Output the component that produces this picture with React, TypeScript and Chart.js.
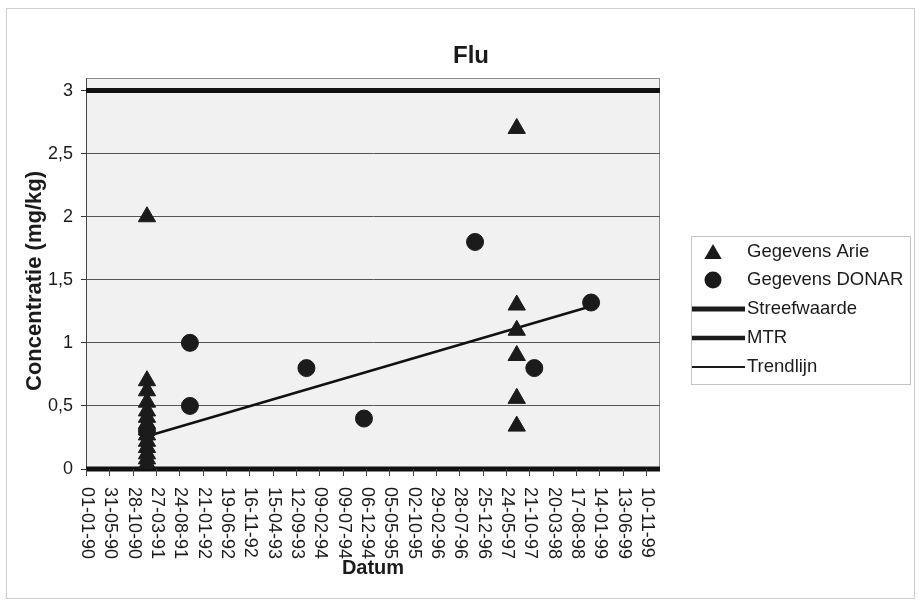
import { useEffect, useRef } from 'react';
import { Chart, registerables } from 'chart.js';

Chart.register(...registerables);

const FONT = '"Liberation Sans", Arial, Helvetica, sans-serif';
const INK = '#1b1b1b';

// Date axis: values are days since 01-01-1990
const ORIGIN = Date.UTC(1990, 0, 1);
const DAY_MS = 86400000;
const isoToDays = (iso: string) => (Date.parse(iso + 'T00:00:00Z') - ORIGIN) / DAY_MS;
const labelToDays = (lbl: string) => {
  const [d, m, y] = lbl.split('-').map(Number);
  return (Date.UTC(1900 + y, m - 1, d) - ORIGIN) / DAY_MS;
};

const xTickLabels = [
  '01-01-90', '31-05-90', '28-10-90', '27-03-91', '24-08-91', '21-01-92', '19-06-92',
  '16-11-92', '15-04-93', '12-09-93', '09-02-94', '09-07-94', '06-12-94', '05-05-95',
  '02-10-95', '29-02-96', '28-07-96', '25-12-96', '24-05-97', '21-10-97', '20-03-98',
  '17-08-98', '14-01-99', '13-06-99', '10-11-99',
];
const xAxisStart = '1990-01-01';
const xAxisEnd = '2000-02-08';

const yTickValues = [0, 0.5, 1, 1.5, 2, 2.5, 3];
const yTickLabels = ['0', '0,5', '1', '1,5', '2', '2,5', '3'];
const yAxisMax = 3.1;

// Gegevens Arie
const arieDates = [
  '1991-01-28', '1991-01-28', '1991-01-28', '1991-01-28', '1991-01-28', '1991-01-28',
  '1991-01-28', '1991-01-28', '1991-01-28', '1991-01-28', '1991-01-28', '1991-01-28',
  '1991-01-28', '1991-01-28', '1991-01-28',
  '1997-08-01', '1997-08-01', '1997-08-01', '1997-08-01', '1997-08-01', '1997-08-01',
];
const arieValues = [
  2.0, 0.7, 0.62, 0.53, 0.46, 0.41, 0.36, 0.31, 0.27, 0.22, 0.17, 0.12, 0.08, 0.04, 0.0,
  2.7, 1.3, 1.1, 0.9, 0.56, 0.34,
];

// Gegevens DONAR
const donarDates = [
  '1991-01-28', '1991-10-31', '1991-10-31', '1993-11-18', '1994-11-23',
  '1996-11-06', '1997-11-22', '1998-11-22',
];
const donarValues = [0.3, 1.0, 0.5, 0.8, 0.4, 1.8, 0.8, 1.32];

// Reference levels
const streefwaarde = 0;
const mtr = 3;

// Trendlijn end points
const trendDates = ['1991-01-28', '1998-11-22'];
const trendValues = [0.26, 1.29];

const toPoints = (dates: string[], values: number[]) =>
  dates.map((d, i) => ({ x: isoToDays(d), y: values[i] }));

const levelLine = (value: number) => [
  { x: isoToDays(xAxisStart), y: value },
  { x: isoToDays(xAxisEnd), y: value },
];

function drawTriangle(ctx: CanvasRenderingContext2D, x: number, y: number, r: number) {
  ctx.beginPath();
  for (let k = 0; k < 3; k++) {
    const a = (k * 2 * Math.PI) / 3;
    const px = x + Math.sin(a) * r;
    const py = y - Math.cos(a) * r;
    if (k === 0) ctx.moveTo(px, py);
    else ctx.lineTo(px, py);
  }
  ctx.closePath();
  ctx.fill();
}

const decorations = {
  id: 'decorations',
  beforeDraw(chart: any) {
    const { ctx, chartArea: a } = chart;
    ctx.save();
    ctx.fillStyle = '#ffffff';
    ctx.fillRect(0, 0, chart.width, chart.height);
    ctx.strokeStyle = '#cfcfcf';
    ctx.lineWidth = 1;
    ctx.strokeRect(6.5, 8.5, 908, 590);
    ctx.fillStyle = '#f1f1f1';
    ctx.fillRect(a.left, a.top, a.right - a.left, a.bottom - a.top);
    ctx.strokeStyle = '#8c8c8c';
    ctx.strokeRect(a.left + 0.5, a.top + 0.5, a.right - a.left - 1, a.bottom - a.top);
    ctx.restore();
  },
  afterDraw(chart: any) {
    const { ctx, chartArea: a, scales } = chart;
    const xs = scales.x;
    ctx.save();

    // Title
    ctx.fillStyle = INK;
    ctx.textAlign = 'center';
    ctx.textBaseline = 'middle';
    ctx.font = `bold 24px ${FONT}`;
    ctx.fillText('Flu', 471, 56);

    // Axis titles
    ctx.font = `bold 20px ${FONT}`;
    ctx.fillText('Datum', 373, 568);
    ctx.save();
    ctx.translate(35, 281);
    ctx.rotate(-Math.PI / 2);
    ctx.font = `bold 22px ${FONT}`;
    ctx.fillText('Concentratie (mg/kg)', 0, 0);
    ctx.restore();

    // Date ticks and labels (text runs downwards)
    ctx.strokeStyle = '#444';
    ctx.lineWidth = 1;
    ctx.font = `18px ${FONT}`;
    xTickLabels.forEach((lbl) => {
      const px = Math.round(xs.getPixelForValue(labelToDays(lbl))) + 0.5;
      ctx.beginPath();
      ctx.moveTo(px, a.bottom);
      ctx.lineTo(px, a.bottom + 7);
      ctx.stroke();
      ctx.save();
      ctx.translate(px, a.bottom + 18);
      ctx.rotate(Math.PI / 2);
      ctx.textAlign = 'left';
      ctx.textBaseline = 'middle';
      ctx.fillText(lbl, 0, 0);
      ctx.restore();
    });

    // Legend
    const lx = 691;
    const ly = 236;
    ctx.strokeStyle = '#c4c4c4';
    ctx.lineWidth = 1;
    ctx.strokeRect(lx + 0.5, ly + 0.5, 219, 148);
    ctx.font = `18.5px ${FONT}`;
    ctx.textAlign = 'left';
    ctx.textBaseline = 'middle';
    ctx.fillStyle = INK;
    const rows = [252, 280, 309, 338, 367];
    drawTriangle(ctx, 713, rows[0] + 2, 10);
    ctx.fillText('Gegevens Arie', 747, rows[0]);
    ctx.beginPath();
    ctx.arc(713, rows[1], 8.5, 0, Math.PI * 2);
    ctx.fill();
    ctx.fillText('Gegevens DONAR', 747, rows[1]);
    ctx.strokeStyle = INK;
    const lineRows: [number, number, string][] = [
      [rows[2], 5, 'Streefwaarde'],
      [rows[3], 4.5, 'MTR'],
      [rows[4], 2, 'Trendlijn'],
    ];
    lineRows.forEach(([y, w, text]) => {
      ctx.lineWidth = w;
      ctx.beginPath();
      ctx.moveTo(lx + 1, y);
      ctx.lineTo(745, y);
      ctx.stroke();
      ctx.fillText(text, 747, y);
    });

    ctx.restore();
  },
};

export default function App() {
  const ref = useRef<HTMLCanvasElement>(null);

  useEffect(() => {
    document.body.style.margin = '0';
    const chart = new Chart(ref.current!, {
      type: 'scatter',
      data: {
        datasets: [
          {
            label: 'Gegevens Arie',
            data: toPoints(arieDates, arieValues),
            pointStyle: 'triangle',
            pointRadius: 10,
            backgroundColor: INK,
            borderColor: INK,
            borderWidth: 1,
          },
          {
            label: 'Gegevens DONAR',
            data: toPoints(donarDates, donarValues),
            pointStyle: 'circle',
            pointRadius: 8.5,
            backgroundColor: INK,
            borderColor: INK,
            borderWidth: 1,
          },
          {
            label: 'Streefwaarde',
            data: levelLine(streefwaarde),
            showLine: true,
            pointRadius: 0,
            borderColor: '#111',
            borderWidth: 5,
            clip: false,
          },
          {
            label: 'MTR',
            data: levelLine(mtr),
            showLine: true,
            pointRadius: 0,
            borderColor: '#111',
            borderWidth: 5,
            clip: false,
          },
          {
            label: 'Trendlijn',
            data: toPoints(trendDates, trendValues),
            showLine: true,
            pointRadius: 0,
            borderColor: '#111',
            borderWidth: 2.5,
          },
        ] as any,
      },
      options: {
        responsive: false,
        animation: false,
        devicePixelRatio: 1,
        layout: { padding: { left: 0, right: 259, top: 78, bottom: 133 } },
        plugins: {
          legend: { display: false },
          title: { display: false },
          tooltip: { enabled: false },
        },
        scales: {
          x: {
            type: 'linear',
            display: false,
            min: isoToDays(xAxisStart),
            max: isoToDays(xAxisEnd),
          },
          y: {
            type: 'linear',
            min: 0,
            max: yAxisMax,
            afterBuildTicks: (s: any) => {
              s.ticks = yTickValues.map((v) => ({ value: v }));
            },
            afterFit: (s: any) => {
              s.width = 86;
            },
            ticks: {
              padding: 8,
              color: INK,
              font: { family: FONT, size: 18 },
              callback: (v: any) => yTickLabels[yTickValues.indexOf(Number(v))] ?? '',
            },
            grid: {
              color: (c: any) =>
                c.tick && (c.tick.value === 0 || c.tick.value === 3) ? 'rgba(0,0,0,0)' : '#555',
              tickColor: '#333',
              tickLength: 5,
              lineWidth: 1,
            },
            border: { display: true, color: '#444', width: 1 },
          },
        },
      },
      plugins: [decorations],
    } as any);
    return () => chart.destroy();
  }, []);

  return (
    <div style={{ width: 919, height: 602 }}>
      <canvas ref={ref} width={919} height={602} style={{ display: 'block' }} />
    </div>
  );
}
